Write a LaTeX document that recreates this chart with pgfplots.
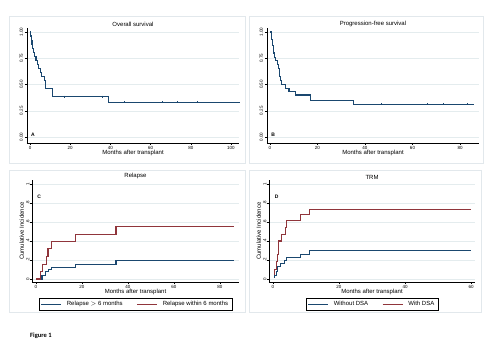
\documentclass[border=0pt]{standalone}
\usepackage{pgfplots}
\pgfplotsset{compat=1.18}
\usepackage{fontspec}
\setmainfont{Liberation Sans}
\newfontfamily\carlito{Carlito}
\definecolor{navy}{RGB}{26,71,111}
\definecolor{maroon}{RGB}{144,53,59}
\definecolor{gridc}{RGB}{228,236,238}
\definecolor{boxc}{RGB}{226,232,236}
\pgfplotsset{
  statastyle/.style={
    scale only axis,
    axis x line*=bottom, axis y line*=left,
    axis line style={black,line width=0.5pt},
    tick align=outside, major tick length=2pt,
    tick style={black,line width=0.4pt},
    ymajorgrids, grid style={gridc,line width=0.5pt},
    font=\fontsize{4.5}{5}\selectfont,
    /pgf/number format/assume math mode=true,
    xticklabel style={inner sep=1pt},
    yticklabel style={rotate=90,inner sep=1pt, anchor=south},
    every axis title shift=0pt,
    title style={font=\fontsize{6}{6}\selectfont, inner sep=0.8pt},
    xlabel style={font=\fontsize{6}{6}\selectfont, inner sep=0pt},
    ylabel style={font=\fontsize{6}{6}\selectfont, inner sep=0pt},
    clip=false,
  },
  km/.style={const plot, navy, line width=1.1pt, no marks},
  kmr/.style={const plot, maroon, line width=1.1pt, no marks},
  cens/.style={only marks, mark=|, mark size=1pt, navy, mark options={line width=0.3pt}},
  legsty/.style={legend columns=2,
    legend style={at={(0.5,0)}, anchor=north, yshift=-16pt, draw=black, line width=0.4pt,
      font=\fontsize{6}{6}\selectfont, inner ysep=1pt, inner xsep=2pt, column sep=3pt,
      /tikz/every even column/.append style={column sep=12pt}},
    legend image code/.code={\draw[##1] (0pt,0pt) -- (20pt,0pt);}},
}
\begin{document}
\begin{tikzpicture}[x=1pt,y=1pt]
\useasboundingbox (0,0) rectangle (500,356);
\draw[boxc,line width=0.5pt] (9,193) rectangle (245,340);
\draw[boxc,line width=0.5pt] (249,193) rectangle (483,340);
\draw[boxc,line width=0.5pt] (9,44) rectangle (245,186);
\draw[boxc,line width=0.5pt] (249,44) rectangle (481,186);

% A: Overall survival
\begin{axis}[statastyle, at={(27pt,213pt)}, anchor=south west,
  width=212pt, height=115pt,
  xmin=-1.5, xmax=104, ymin=-0.057, ymax=1.038,
  xtick={0,20,40,60,80,100},
  yticklabel style={inner sep=2pt},
  ytick={0,0.25,0.5,0.75,1}, yticklabels={0.00,0.25,0.50,0.75,1.00},
  title={Overall survival}, xlabel={Months after transplant}]
\addplot[km] coordinates {(0,1) (0.3,0.962) (0.6,0.923) (1.0,0.885) (1.3,0.846) (1.7,0.808) (2.2,0.769) (3.0,0.731) (3.6,0.692) (4.2,0.654) (5.0,0.615) (5.5,0.577) (7.0,0.538) (7.6,0.462) (11,0.385) (39,0.33) (104.5,0.33)};
\addplot[cens] coordinates {(17,0.385) (36,0.385) (47,0.33) (66,0.33) (73,0.33) (83,0.33)};
\node[font=\fontsize{5}{5}\selectfont\bfseries, anchor=south west, inner sep=0pt] at (axis cs:0.5,0.0) {A};
\end{axis}

% B: PFS
\begin{axis}[statastyle, at={(267pt,213pt)}, anchor=south west,
  width=212pt, height=115pt,
  xmin=-1.26, xmax=88, ymin=-0.057, ymax=1.038,
  xtick={0,20,40,60,80},
  yticklabel style={inner sep=2pt},
  ytick={0,0.25,0.5,0.75,1}, yticklabels={0.00,0.25,0.50,0.75,1.00},
  title={Progression-free survival}, xlabel={Months after transplant}]
\addplot[km] coordinates {(0,1) (0.5,0.93) (0.9,0.87) (1.3,0.80) (2.0,0.76) (2.4,0.73) (3.0,0.69) (3.6,0.65) (4.0,0.58) (4.5,0.54) (5.0,0.50) (6.6,0.46) (8.0,0.43) (10.8,0.40) (17.2,0.35) (35,0.31) (85.9,0.31)};
\addplot[cens] coordinates {(47,0.31) (66,0.31) (73,0.31) (83,0.31)};
\node[font=\fontsize{5}{5}\selectfont\bfseries, anchor=south west, inner sep=0pt] at (axis cs:0.5,0.0) {B};
\end{axis}

% C: Relapse
\begin{axis}[statastyle, legsty, at={(32pt,74pt)}, anchor=south west,
  width=207pt, height=102pt,
  xmin=-1.74, xmax=88.3, ymin=-0.032, ymax=1.042,
  xtick={0,20,40,60,80},
  yticklabel style={inner sep=0.5pt},
  ylabel style={yshift=1.5pt},
  ytick={0,0.2,0.4,0.6,0.8,1}, yticklabels={0,.2,.4,.6,.8,1},
  title={Relapse}, xlabel={Months after transplant}, ylabel={Cumulative Incidence}]
\addplot[km] coordinates {(0,0) (2.6,0.04) (4.2,0.08) (5.3,0.10) (6.6,0.12) (17.2,0.15) (34.8,0.19) (86,0.19)};
\addlegendentry{Relapse $>$ 6 months}
\addplot[kmr] coordinates {(0,0) (2.1,0.08) (2.8,0.15) (4.5,0.24) (5.2,0.32) (6.6,0.39) (17.2,0.47) (34.8,0.55) (86,0.55)};
\addlegendentry{Relapse within 6 months}
\node[font=\fontsize{5}{5}\selectfont\bfseries, anchor=west, inner sep=0pt] at (axis cs:0.5,0.87) {C};
\end{axis}

% D: TRM
\begin{axis}[statastyle, legsty, at={(269pt,74pt)}, anchor=south west,
  width=206pt, height=102pt,
  xmin=-1.2, xmax=61.2, ymin=-0.032, ymax=1.042,
  xtick={0,20,40,60},
  yticklabel style={inner sep=0.5pt},
  ylabel style={yshift=1.5pt},
  ytick={0,0.2,0.4,0.6,0.8,1}, yticklabels={0,.2,.4,.6,.8,1},
  title={TRM}, xlabel={Months after transplant}, ylabel={Cumulative Incidence}]
\addplot[km] coordinates {(0.3,0.02) (0.6,0.04) (1.0,0.08) (1.4,0.13) (2.2,0.16) (3.4,0.19) (4.2,0.23) (8.3,0.26) (11,0.30) (60,0.30)};
\addlegendentry{Without DSA}
\addplot[kmr] coordinates {(0.3,0.05) (0.5,0.10) (1.0,0.18) (1.3,0.26) (1.8,0.40) (2.5,0.47) (3.8,0.54) (4.2,0.62) (8.3,0.68) (11,0.73) (60,0.73)};
\addlegendentry{With DSA}
\node[font=\fontsize{5}{5}\selectfont\bfseries, anchor=west, inner sep=0pt] at (axis cs:0.5,0.87) {D};
\end{axis}

\node[anchor=west, inner sep=0pt, font=\carlito\bfseries\fontsize{6.5}{7}\selectfont] at (30,20) {Figure 1};
\end{tikzpicture}
\end{document}
